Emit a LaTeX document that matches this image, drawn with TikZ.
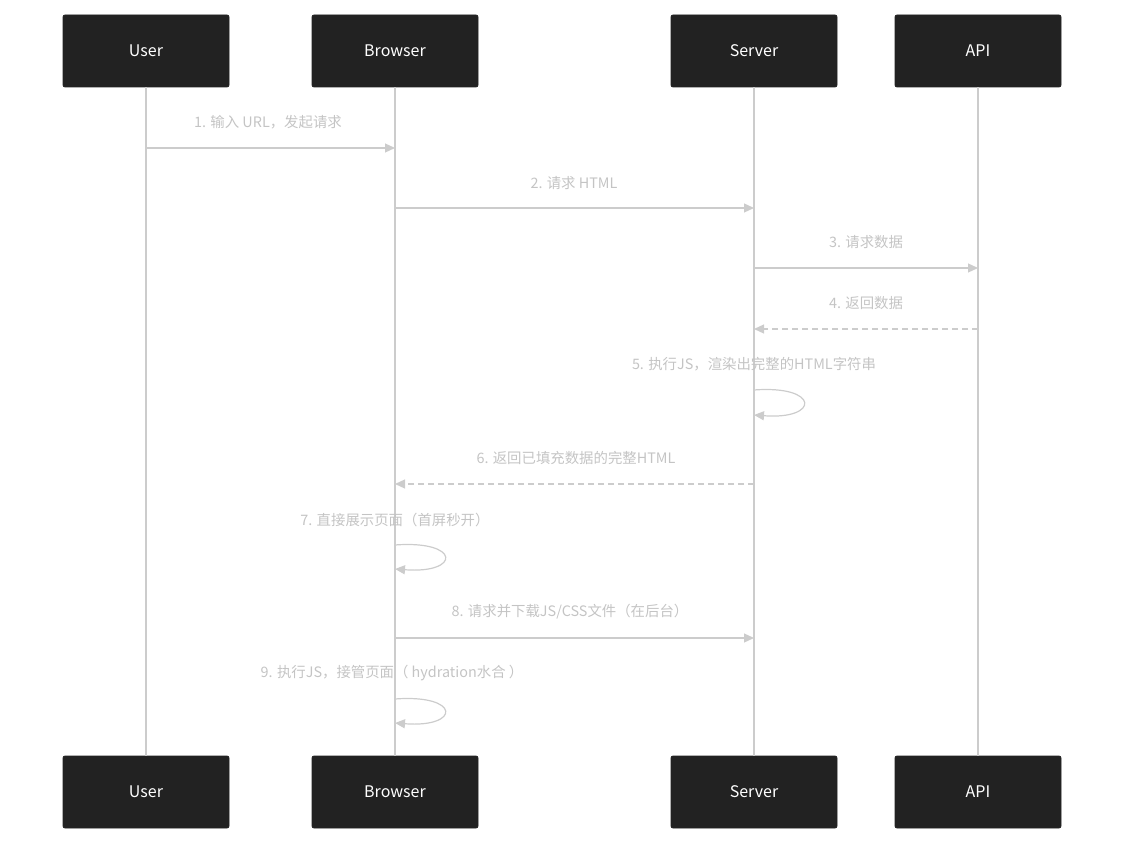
\documentclass[tikz,border=0pt]{standalone}
\usepackage{fontspec}
\setmainfont{Noto Sans CJK SC}
\usetikzlibrary{arrows.meta}
\definecolor{boxdark}{HTML}{222222}
\definecolor{linegray}{HTML}{CCCCCC}
\definecolor{textgray}{HTML}{C4C4C4}
\begin{document}
\begin{tikzpicture}[x=0.5pt,y=-0.5pt,
  actor/.style={rectangle,rounded corners=1pt,fill=boxdark,draw=boxdark,text=white,
    minimum width=83pt,minimum height=36pt,font=\fontsize{8}{9}\selectfont},
  msg/.style={draw=linegray,line width=0.6pt,-{Triangle[length=5pt,width=4.5pt]}},
  reply/.style={msg,densely dashed},
  lbl/.style={text=textgray,font=\fontsize{7.2}{8}\selectfont,inner sep=0pt},
  life/.style={draw=linegray,line width=0.8pt}]
\useasboundingbox (0,0) rectangle (1124,844);
% actors, top and bottom
\node[actor] (userT) at (146,51) {User};
\node[actor] (browserT) at (395,51) {Browser};
\node[actor] (serverT) at (754,51) {Server};
\node[actor] (apiT) at (978,51) {API};
\node[actor] (userB) at (146,792) {User};
\node[actor] (browserB) at (395,792) {Browser};
\node[actor] (serverB) at (754,792) {Server};
\node[actor] (apiB) at (978,792) {API};
% lifelines
\foreach \a in {user,browser,server,api}
  \draw[life] (\a T) -- (\a B);
% message points
\coordinate (u1) at (146,148); \coordinate (b1) at (395,148);
\coordinate (b2) at (395,208); \coordinate (s2) at (754,208);
\coordinate (s3) at (754,268); \coordinate (a3) at (978,268);
\coordinate (a4) at (978,329); \coordinate (s4) at (754,329);
\coordinate (s5) at (754,390); \coordinate (s5e) at (754,415);
\coordinate (s6) at (754,484); \coordinate (b6) at (395,484);
\coordinate (b7) at (395,545); \coordinate (b7e) at (395,569);
\coordinate (b8) at (395,638); \coordinate (s8) at (754,638);
\coordinate (b9) at (395,699); \coordinate (b9e) at (395,723);
% messages
\draw[msg] (u1) -- (b1);
\node[lbl] at (268,122) {1. 输入 URL，发起请求};
\draw[msg] (b2) -- (s2);
\node[lbl] at (574,183) {2. 请求 HTML};
\draw[msg] (s3) -- (a3);
\node[lbl] at (866,242) {3. 请求数据};
\draw[reply] (a4) -- (s4);
\node[lbl] at (866,303) {4. 返回数据};
\draw[msg] (s5) .. controls (820,385) and (820,420) .. (s5e);
\node[lbl] at (754,364) {5. 执行JS，渲染出完整的HTML字符串};
\draw[reply] (s6) -- (b6);
\node[lbl] at (576,458) {6. 返回已填充数据的完整HTML};
\draw[msg] (b7) .. controls (461,540) and (461,574) .. (b7e);
\node[lbl] at (395,520) {7. 直接展示页面（首屏秒开）};
\draw[msg] (b8) -- (s8);
\node[lbl] at (570,612) {8. 请求并下载JS/CSS文件（在后台）};
\draw[msg] (b9) .. controls (461,694) and (461,728) .. (b9e);
\node[lbl] at (392,673) {9. 执行JS，接管页面（ hydration水合 ）};
\end{tikzpicture}
\end{document}
